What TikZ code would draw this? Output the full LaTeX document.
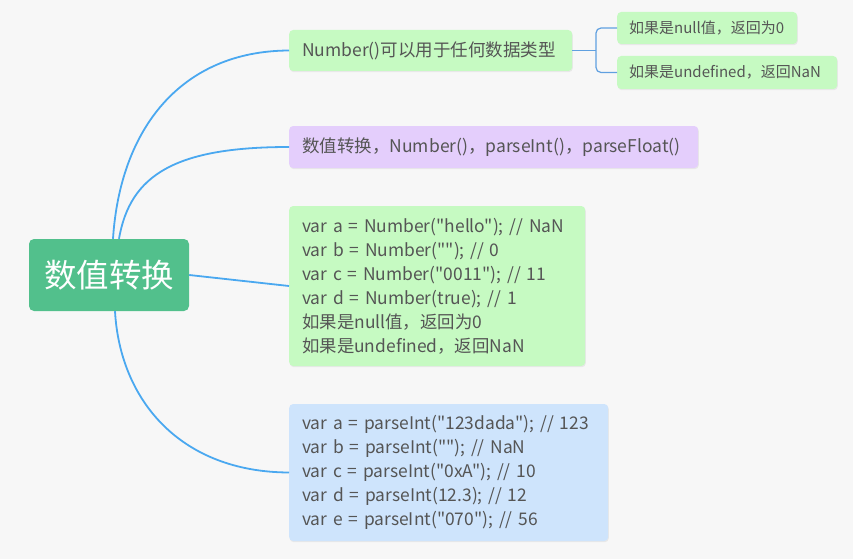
\documentclass[tikz,border=0pt]{standalone}
\usepackage{fontspec}
\newfontfamily\cjkfont{Noto Sans CJK SC}
\usetikzlibrary{shadows}
\definecolor{bgcol}{RGB}{247,247,247}
\definecolor{rootcol}{RGB}{82,192,140}
\definecolor{linkcol}{RGB}{74,168,240}
\definecolor{forkcol}{RGB}{96,160,224}
\definecolor{greencol}{RGB}{198,250,194}
\definecolor{purplecol}{RGB}{228,206,252}
\definecolor{bluecol}{RGB}{206,228,252}
\definecolor{textcol}{RGB}{85,85,85}

\begin{document}
\begin{tikzpicture}[x=1pt, y=-1pt,
	topic/.style={rounded corners=4pt, fill=#1, text=textcol, anchor=west, align=left,
		inner xsep=13pt, inner ysep=0pt, font=\cjkfont\fontsize{17.5}{24}\selectfont,
		drop shadow={shadow xshift=0.6pt, shadow yshift=-1.2pt, opacity=0.12}},
	code/.style={topic=#1, font=\cjkfont\fontsize{17.4}{24}\selectfont},
	leaf/.style={topic=greencol, inner xsep=12pt, font=\cjkfont\fontsize{15}{18}\selectfont},
	link/.style={draw=linkcol, line width=1.8pt},
	fork/.style={draw=forkcol, line width=1.2pt, rounded corners=5pt}]
	%%%%% START %%%%%
	
	\fill[bgcol] (0, 0) rectangle (853, 559);
	\useasboundingbox (0, 0) rectangle (853, 559);
	
	\node[rounded corners=5pt, fill=rootcol, text=white, minimum width=160pt, minimum height=72pt,
		font=\cjkfont\fontsize{32.5}{36}\selectfont] (root) at (109, 275) {数值转换};
	
	\node[topic=greencol, text width=257pt, minimum height=41pt] (number) at (289, 50.5) {Number()可以用于任何数据类型};
	\node[leaf, text width=156pt, minimum height=32pt] (isnull) at (617, 28) {如果是null值，返回为0};
	\node[leaf, text width=196pt, minimum height=33pt] (isundef) at (617, 72.5) {如果是undefined，返回NaN};
	
	\node[topic=purplecol, text width=383pt, minimum height=42pt] (convert) at (289, 147) {数值转换，Number()，parseInt()，parseFloat()};
	
	\node[code=greencol, text width=270pt, minimum height=160pt] (numcode) at (289, 286) {var a = Number("hello"); // NaN\\
		var b = Number(""); // 0\\
		var c = Number("0011"); // 11\\
		var d = Number(true); // 1\\
		如果是null值，返回为0\\
		如果是undefined，返回NaN};
	
	\node[code=bluecol, text width=293pt, minimum height=137pt] (intcode) at (289, 472.5) {var a = parseInt("123dada"); // 123\\
		var b = parseInt(""); // NaN\\
		var c = parseInt("0xA"); // 10\\
		var d = parseInt(12.3); // 12\\
		var e = parseInt("070"); // 56};
	
	% branches from the root
	\draw[link] ([xshift=4pt]root.north) .. controls (120, 130) and (180, 51) .. (number.west);
	\draw[link] ([xshift=10pt]root.north) .. controls (130, 175) and (175, 147) .. (convert.west);
	\draw[link] (root.east) -- (numcode.west);
	\draw[link] ([xshift=6pt]root.south) .. controls (120, 400) and (180, 472) .. (intcode.west);
	
	% fork to the two leaves
	\coordinate (split) at (596, 50.5);
	\draw[fork] (number.east) -- (split);
	\draw[fork] (isnull.west) -| (split) |- (isundef.west);
	
	%%%%% END %%%%%
\end{tikzpicture}
\end{document}
